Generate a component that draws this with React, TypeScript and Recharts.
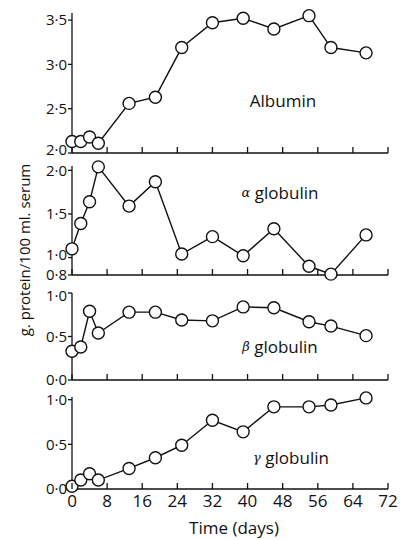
import React from 'react';
import { LineChart, Line, XAxis, YAxis } from 'recharts';

// sampling days (same for all four fractions)
const days = [0, 2, 4, 6, 13, 19, 25, 32, 39, 46, 54, 59, 67];

const albumin = [2.13, 2.13, 2.18, 2.11, 2.56, 2.63, 3.19, 3.47, 3.52, 3.4, 3.55, 3.19, 3.13];
const alphaGlobulin = [1.1, 1.39, 1.64, 2.04, 1.59, 1.87, 1.04, 1.24, 1.02, 1.33, 0.9, 0.81, 1.26];
const betaGlobulin = [0.33, 0.38, 0.79, 0.54, 0.78, 0.78, 0.69, 0.68, 0.84, 0.83, 0.67, 0.62, 0.51];
const gammaGlobulin = [0.03, 0.1, 0.17, 0.1, 0.23, 0.35, 0.49, 0.77, 0.64, 0.92, 0.92, 0.94, 1.02];

const xTicks = [0, 8, 16, 24, 32, 40, 48, 56, 64, 72];

const FONT = '"Open Sans", sans-serif';
const INK = '#111';

const fmt = (v: number) => v.toFixed(1).replace('.', '·');

// x ticks point up into the plot
const XTickMark = (props: any) => {
  const x = Number(props.x);
  const y = Number(props.y);
  return <line x1={x} y1={y} x2={x} y2={y - 6} stroke={INK} strokeWidth={1.3} />;
};

const XTickLabelled = (props: any) => {
  const x = Number(props.x);
  const y = Number(props.y);
  return (
    <g>
      <line x1={x} y1={y} x2={x} y2={y - 6} stroke={INK} strokeWidth={1.3} />
      <text x={x} y={y + 18} textAnchor="middle" fontSize={17} fontFamily={FONT} fill={INK}>
        {props.payload.value}
      </text>
    </g>
  );
};

// y tick labels, with a small vertical nudge where two panels' labels crowd together
const makeYTick = (nudge: Record<string, number>) => (props: any) => {
  const x = Number(props.x);
  const y = Number(props.y);
  const v = props.payload.value as number;
  const dy = nudge[String(v)] || 0;
  return (
    <text x={x} y={y + dy} dy="0.35em" textAnchor="end" fontSize={15} fontFamily={FONT} fill={INK}>
      {fmt(v)}
    </text>
  );
};

interface PanelProps {
  values: number[];
  domain: [number, number];
  ticks: number[];
  top: number;
  height: number;
  nudge?: Record<string, number>;
  showXLabels?: boolean;
}

function Panel({ values, domain, ticks, top, height, nudge, showXLabels }: PanelProps) {
  const data = days.map((d, i) => ({ day: d, v: values[i] }));
  return (
    <div style={{ position: 'absolute', left: 0, top }}>
      <LineChart width={400} height={height} data={data} margin={{ top: 10, right: 12, bottom: 0, left: 32 }}>
        <XAxis
          dataKey="day"
          type="number"
          domain={[0, 72]}
          ticks={xTicks}
          height={30}
          tickSize={0}
          tickMargin={0}
          tickLine={false}
          tick={showXLabels ? XTickLabelled : XTickMark}
          stroke={INK}
          strokeWidth={1.3}
          interval={0}
        />
        <YAxis
          type="number"
          domain={domain}
          ticks={ticks}
          width={40}
          tickSize={4}
          tickMargin={1}
          tick={makeYTick(nudge || {})}
          stroke={INK}
          strokeWidth={1.3}
          interval={0}
        />
        <Line
          dataKey="v"
          stroke={INK}
          strokeWidth={1.4}
          isAnimationActive={false}
          dot={{ r: 6, fill: '#fff', stroke: INK, strokeWidth: 1.4 }}
        />
      </LineChart>
    </div>
  );
}

export default function App() {
  return (
    <div style={{ position: 'absolute', left: 0, top: 0, width: 400, height: 540, background: '#fff' }}>
      <Panel values={albumin} domain={[2.0, 3.58]} ticks={[2.0, 2.5, 3.0, 3.5]} top={3} height={180} nudge={{ '2': -3 }} />
      <Panel values={alphaGlobulin} domain={[0.8, 2.05]} ticks={[0.8, 1.0, 1.5, 2.0]} top={156} height={149} nudge={{ '1': -3, '0.8': 0 }} />
      <Panel values={betaGlobulin} domain={[0, 1.0]} ticks={[0, 0.5, 1.0]} top={283} height={127} nudge={{ '1': 3 }} />
      <Panel values={gammaGlobulin} domain={[0, 1.03]} ticks={[0, 0.5, 1.0]} top={387} height={132} showXLabels />
      <svg width={400} height={540} style={{ position: 'absolute', left: 0, top: 0, pointerEvents: 'none' }}>
        <g fontFamily={FONT} fill={INK}>
          <text x={24} y={250} fontSize={15} textAnchor="middle" dominantBaseline="central" transform="rotate(-90 24 250)">
            g. protein/100 ml. serum
          </text>
          <text x={283} y={100} fontSize={17} textAnchor="middle" dominantBaseline="central">Albumin</text>
          <text x={280} y={192} fontSize={17} textAnchor="middle" dominantBaseline="central">
            <tspan fontStyle="italic" fontFamily="DejaVu Serif" fontSize={13}>α</tspan>{'  globulin'}
          </text>
          <text x={280} y={346} fontSize={17} textAnchor="middle" dominantBaseline="central">
            <tspan fontStyle="italic" fontFamily="DejaVu Serif" fontSize={13}>β</tspan>{'  globulin'}
          </text>
          <text x={291} y={457} fontSize={17} textAnchor="middle" dominantBaseline="central">
            <tspan fontStyle="italic" fontFamily="DejaVu Serif" fontSize={13}>γ</tspan>{'  globulin'}
          </text>
          <text x={234} y={527} fontSize={17} textAnchor="middle" dominantBaseline="central">Time (days)</text>
        </g>
      </svg>
    </div>
  );
}
